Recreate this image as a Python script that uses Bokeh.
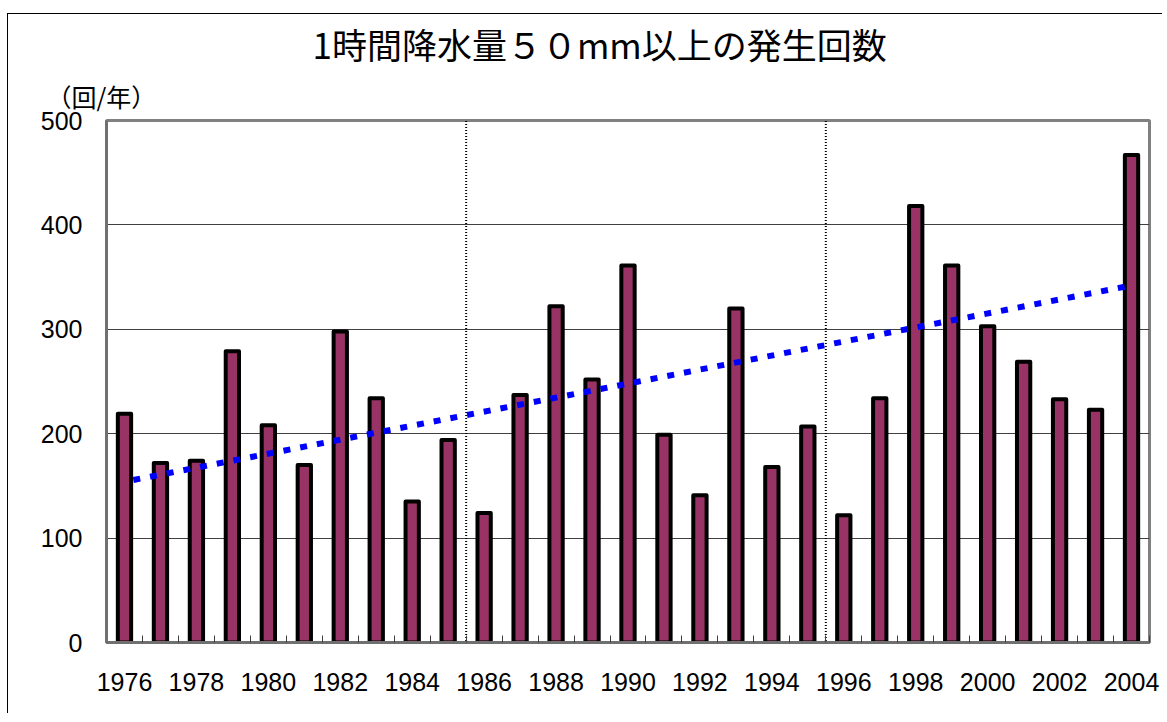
from bokeh.plotting import figure
from bokeh.models import Range1d, FixedTicker, Title
from bokeh.embed import file_html
from bokeh.resources import INLINE

# ---- data ----
years = list(range(1976, 2005))
counts = [219, 172, 174, 279, 208, 170, 298, 234, 135, 194,
          124, 237, 322, 252, 361, 199, 141, 320, 168, 207,
          122, 234, 418, 361, 303, 269, 233, 223, 467]
trend_years = [1976, 2004]
trend_vals = [154, 342]
divider_years = [1985.5, 1995.5]
tick_years = list(range(1976, 2005, 2))
y_ticks = [0, 100, 200, 300, 400, 500]
title_text = "1時間降水量５０mm以上の発生回数"
unit_text = "（回/年）"

p = figure(width=1155, height=700, output_backend="svg", toolbar_location=None,
           x_range=Range1d(1975.5, 2004.5), y_range=Range1d(0, 500),
           min_border_left=98, min_border_right=14, min_border_top=106,
           min_border_bottom=72)
p.styles = {"margin-top": "13px", "margin-left": "7px",
            "border-left": "1px solid black", "border-top": "1px solid black"}
p.background_fill_color = "white"
p.border_fill_color = "white"
p.outline_line_color = "#808080"
p.outline_line_width = 3

# grid
p.xgrid.grid_line_color = None
p.ygrid.ticker = FixedTicker(ticks=y_ticks)
p.ygrid.grid_line_color = "#404040"
p.ygrid.grid_line_width = 1

# x axis
p.xaxis.ticker = FixedTicker(ticks=tick_years,
                             minor_ticks=[y - 0.5 for y in years] + [years[-1] + 0.5])
p.xaxis.major_tick_line_color = None
p.xaxis.minor_tick_in = 7
p.xaxis.minor_tick_out = 0
p.xaxis.minor_tick_line_color = "#404040"
p.xaxis.minor_tick_line_width = 1
p.xaxis.axis_line_color = "#707070"
p.xaxis.axis_line_width = 3
p.xaxis.major_label_text_font = "Liberation Sans"
p.xaxis.major_label_text_font_size = "25px"
p.xaxis.major_label_text_color = "black"
p.xaxis.major_label_standoff = 24

# y axis
p.yaxis.ticker = FixedTicker(ticks=y_ticks)
p.yaxis.major_tick_line_color = None
p.yaxis.minor_tick_line_color = None
p.yaxis.axis_line_color = "#707070"
p.yaxis.axis_line_width = 3
p.yaxis.major_label_text_font = "Liberation Sans"
p.yaxis.major_label_text_font_size = "25px"
p.yaxis.major_label_text_color = "black"
p.yaxis.major_label_standoff = 18

# divider lines
for d in divider_years:
    p.segment(x0=d, y0=-10, x1=d, y1=500, line_color="black",
              line_width=2, line_dash="1 2")

# bars
p.vbar(x=years, top=counts, bottom=0, width=0.37, fill_color="#993366",
       line_color="black", line_width=4, line_join="round")

# trend line
p.line(x=trend_years, y=trend_vals, line_color="#0000FF", line_width=6,
       line_dash="7 10", line_dash_offset=8)

# unit (closest to frame) and title
p.add_layout(Title(text=unit_text, align="left", offset=-60, standoff=14,
                   text_font="Noto Sans CJK JP", text_font_size="25px",
                   text_font_style="normal", text_color="black"), "above")
p.add_layout(Title(text=title_text, align="left", offset=206, standoff=0,
                   text_font="Noto Sans CJK JP", text_font_size="35px",
                   text_font_style="normal", text_color="black"), "above")

open("out.html", "w").write(file_html(p, INLINE))
